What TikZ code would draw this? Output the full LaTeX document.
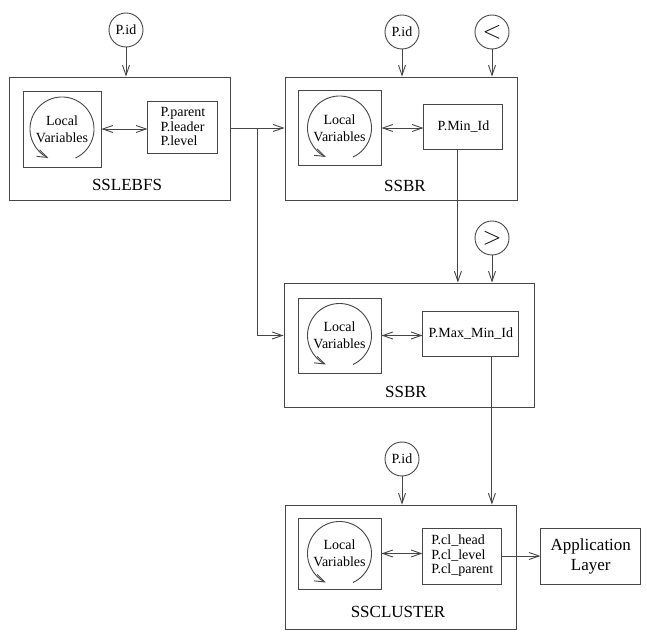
\documentclass[tikz,border=0pt]{standalone}
\usepackage{fontspec}
\setmainfont{Liberation Serif}
\usetikzlibrary{arrows.meta, positioning, calc}
\definecolor{linegray}{RGB}{70,70,70}

\tikzset{
  module/.style={draw=linegray, line width=0.9pt, inner sep=0pt},
  localbox/.style={draw=linegray, line width=0.9pt, minimum width=83pt, minimum height=75pt,
                   inner sep=0pt, align=center, font=\fontsize{14}{17}\selectfont},
  databox/.style={draw=linegray, line width=0.9pt, inner sep=0pt, align=left,
                  font=\fontsize{14}{14.5}\selectfont},
  inputcirc/.style={draw=linegray, line width=0.9pt, circle, minimum size=34pt, inner sep=0pt,
                    font=\fontsize{14}{14}\selectfont},
  modlabel/.style={anchor=base, font=\fontsize{17}{17}\selectfont},
  arr/.style={draw=linegray, line width=0.9pt, -{Straight Barb[length=10pt,width=7pt]}},
  darr/.style={draw=linegray, line width=0.9pt,
               {Straight Barb[length=10pt,width=7pt]}-{Straight Barb[length=10pt,width=7pt]}},
}

\begin{document}
\begin{tikzpicture}[x=1pt, y=1pt]
        \useasboundingbox (0,0) rectangle (647,634);

        % the four modules
        \node[module, minimum width=221pt, minimum height=123pt] (sslebfs) at (119.5,495.5) {};
        \node[module, minimum width=232pt, minimum height=123pt] (ssbr1) at (401,495.5) {};
        \node[module, minimum width=250pt, minimum height=124pt] (ssbr2) at (409,289) {};
        \node[module, minimum width=231pt, minimum height=124pt] (sscluster) at (400.5,67) {};

        \node[modlabel] at ([shift={(7.5,9.5)}]sslebfs.south) {SSLEBFS};
        \node[modlabel] at ([shift={(4,9)}]ssbr1.south) {SSBR};
        \node[modlabel] at ([shift={(-3,10)}]ssbr2.south) {SSBR};
        \node[modlabel] at ([shift={(-2.5,12)}]sscluster.south) {SSCLUSTER};

        % local variables
        \node[localbox, minimum width=78pt, minimum height=76pt, right=14pt, yshift=9.5pt] (loc1) at (sslebfs.west) {Local\\Variables};
        \node[localbox, right=13pt, yshift=10.5pt] (loc2) at (ssbr1.west) {Local\\Variables};
        \node[localbox, right=14pt, yshift=9.5pt] (loc3) at (ssbr2.west) {Local\\Variables};
        \node[localbox, minimum height=71pt, right=13pt, yshift=13.5pt] (loc4) at (sscluster.west) {Local\\Variables};

        \foreach \l in {loc1,loc2,loc3,loc4}
            \draw[arr] (\l) ++(-65:32pt) arc[start angle=-65, end angle=245, radius=32pt];

        % shared variables
        \node[databox, minimum width=70pt, minimum height=52pt, right=46pt of loc1, yshift=2pt] (d1) {P.parent\\P.leader\\P.level};
        \node[databox, minimum width=79pt, minimum height=45pt, right=42pt of loc2, yshift=1.5pt] (minid) {P.Min\_Id};
        \node[databox, minimum width=96pt, minimum height=45pt, right=41pt of loc3, yshift=2pt] (maxmin) {P.Max\_Min\_Id};
        \node[databox, minimum width=79pt, minimum height=56pt, right=41pt of loc4, yshift=-2.5pt] (d4) {P.cl\_head\\P.cl\_level\\P.cl\_parent};
        \node[databox, align=center, minimum width=100pt, minimum height=56pt, right=38pt of d4,
              font=\fontsize{17}{20}\selectfont] (app) {Application\\Layer};

        % inputs
        \node[inputcirc] (pid1) at (126,604) {P.id};
        \node[inputcirc] (pid2) at (402,602) {P.id};
        \node[inputcirc, font=\fontsize{28}{28}\selectfont] (lt) at (492,602) {$<$};
        \node[inputcirc, font=\fontsize{28}{28}\selectfont] (gt) at (492,396) {$>$};
        \node[inputcirc] (pid3) at (402,175) {P.id};

        \draw[arr] (pid1) -- (pid1 |- sslebfs.north);
        \draw[arr] (pid2) -- (pid2 |- ssbr1.north);
        \draw[arr] (lt) -- (lt |- ssbr1.north);
        \draw[arr] (gt) -- (gt |- ssbr2.north);
        \draw[arr] (pid3) -- (pid3 |- sscluster.north);

        \draw[darr] (loc1.east) -- (loc1.east -| d1.west);
        \draw[darr] (loc2.east) -- (loc2.east -| minid.west);
        \draw[darr] (loc3.east) -- (loc3.east -| maxmin.west);
        \draw[darr] (loc4.east) -- (loc4.east -| d4.west);

        % module links
        \coordinate (split) at (257,506);
        \draw[arr] (sslebfs.east |- split) -- (ssbr1.west |- split);
        \draw[arr] (split) |- (ssbr2.west |- loc3);
        \draw[arr] ([xshift=-5.5pt]minid.south) -- ([xshift=-5.5pt]minid.south |- ssbr2.north);
        \draw[arr] ([xshift=21pt]maxmin.south) -- ([xshift=21pt]maxmin.south |- sscluster.north);
        \draw[arr] (d4.east) -- (app.west);
    \end{tikzpicture}
\end{document}
